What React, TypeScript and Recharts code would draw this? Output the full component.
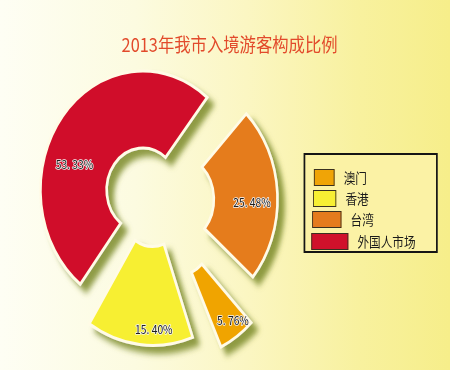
import React from 'react';
import { PieChart, Pie, Cell } from 'recharts';

// ---- data ----
const title = '2013年我市入境游客构成比例';
// ring order, clockwise from upper right
const categories = ['台湾', '澳门', '香港', '外国人市场'];
const shares = [25.48, 5.76, 15.4, 53.33];
// legend order
const legendOrder = ['澳门', '香港', '台湾', '外国人市场'];

// ---- styles ----
const COLORS: Record<string, string> = {
  台湾: '#e57b1d',
  澳门: '#f0a406',
  香港: '#f7ef33',
  外国人市场: '#d0112b',
};
const W = 523;
const H = 370;
const SQUISH = 0.86;
const CX = 178.7;
const CY = 200.4;
// per-slice explode offset and radii (ring order)
const EXPLODE = [
  { dx: 25, dy: -1, inner: 45, outer: 119, lf: 0.6, ls: -4 },
  { dx: 26, dy: 33, inner: 43, outer: 125, lf: 0.8, ls: 3 },
  { dx: -1, dy: 8, inner: 38, outer: 137, lf: 0.83, ls: 7 },
  { dx: -12.7, dy: -10.4, inner: 42, outer: 119, lf: 0.54, ls: 20 },
];
const SWATCH_W = [24, 27, 34, 43];
const SWATCH_L = [10, 9, 8, 7];
const FONT = '"Noto Sans CJK SC", "Noto Sans", sans-serif';

const rows = categories.map((name, i) => ({ name, value: shares[i] }));

const fmt = (v: number) => v.toFixed(2).replace('.', '. ') + '%';

const makeLabel = (k: number) => (props: any) => {
  if (props.index !== k) return <g />;
  const { cx, cy, midAngle, innerRadius, outerRadius, value } = props;
  const e = EXPLODE[k];
  const r = innerRadius + (outerRadius - innerRadius) * e.lf;
  const a = ((midAngle + e.ls) * Math.PI) / 180;
  const x = cx + r * Math.cos(-a);
  const y = cy + r * Math.sin(-a);
  return (
    <text
      x={x}
      y={y}
      textAnchor="middle"
      dominantBaseline="central"
      fontFamily={FONT}
      fontSize={12}
      fill="#1e1e1e"
      stroke="#f4f4f4"
      strokeWidth={1.6}
      strokeLinejoin="round"
      style={{ paintOrder: 'stroke' }}
    >
      {fmt(value)}
    </text>
  );
};

export default function App() {
  const drawOrder = [3, 0, 1, 2];
  return (
    <div
      style={{
        position: 'absolute',
        left: 0,
        top: 0,
        width: 450,
        height: 370,
        overflow: 'hidden',
        background:
          'linear-gradient(90deg, #fefef4 0%, #fcfbe0 30%, #fbf6c2 55%, #f8f19e 80%, #f6ee8a 100%)',
      }}
    >
      <svg width={0} height={0} style={{ position: 'absolute' }}>
        <defs>
          <filter id="sliceShadow" x="-30%" y="-30%" width="170%" height="170%">
            <feDropShadow dx="7" dy="7" stdDeviation="3" floodColor="#7b8a2c" floodOpacity="0.85" />
          </filter>
        </defs>
      </svg>
      <div
        style={{
          position: 'absolute',
          left: 0,
          top: 0,
          width: W,
          height: H,
          transform: `scaleX(${SQUISH})`,
          transformOrigin: '0 0',
        }}
      >
        <div
          style={{
            position: 'absolute',
            left: 67,
            top: 34,
            width: 400,
            textAlign: 'center',
            fontFamily: FONT,
            fontSize: 19,
            lineHeight: '19px',
            color: '#e24a2b',
          }}
        >
          {title}
        </div>
        <div style={{ position: 'absolute', left: 0, top: 0 }}>
          <PieChart width={W} height={H} margin={{ top: 0, right: 0, bottom: 0, left: 0 }}>
            {drawOrder.map((k) => {
              const e = EXPLODE[k];
              return (
                <Pie
                  key={k}
                  data={rows}
                  dataKey="value"
                  nameKey="name"
                  cx={CX + e.dx}
                  cy={CY + e.dy}
                  innerRadius={e.inner}
                  outerRadius={e.outer}
                  startAngle={46}
                  endAngle={-314}
                  paddingAngle={5}
                  isAnimationActive={false}
                  label={makeLabel(k)}
                  labelLine={false}
                >
                  {rows.map((r, i) => (
                    <Cell
                      key={i}
                      fill={i === k ? COLORS[r.name] : 'none'}
                      stroke={i === k ? '#fffbe6' : 'none'}
                      strokeWidth={i === k ? 3 : 0}
                      filter={i === k ? 'url(#sliceShadow)' : undefined}
                    />
                  ))}
                </Pie>
              );
            })}
          </PieChart>
        </div>
        <div
          style={{
            position: 'absolute',
            left: 352.7,
            top: 152.7,
            width: 156,
            height: 100,
            boxSizing: 'border-box',
            border: '2px solid #151515',
            background: '#fbf2a5',
          }}
        >
          {legendOrder.map((name, i) => (
            <div
              key={name}
              style={{
                position: 'absolute',
                left: SWATCH_L[i],
                top: 14 + i * 21.3,
                height: 17,
                display: 'flex',
                alignItems: 'center',
              }}
            >
              <div
                style={{
                  width: SWATCH_W[i],
                  height: 17,
                  boxSizing: 'border-box',
                  border: '1px solid #3a3020',
                  background: COLORS[name],
                }}
              />
              <span
                style={{
                  marginLeft: 11,
                  fontFamily: FONT,
                  fontSize: 13.5,
                  lineHeight: '17px',
                  color: '#1a1a1a',
                  whiteSpace: 'nowrap',
                }}
              >
                {name}
              </span>
            </div>
          ))}
        </div>
      </div>
    </div>
  );
}
